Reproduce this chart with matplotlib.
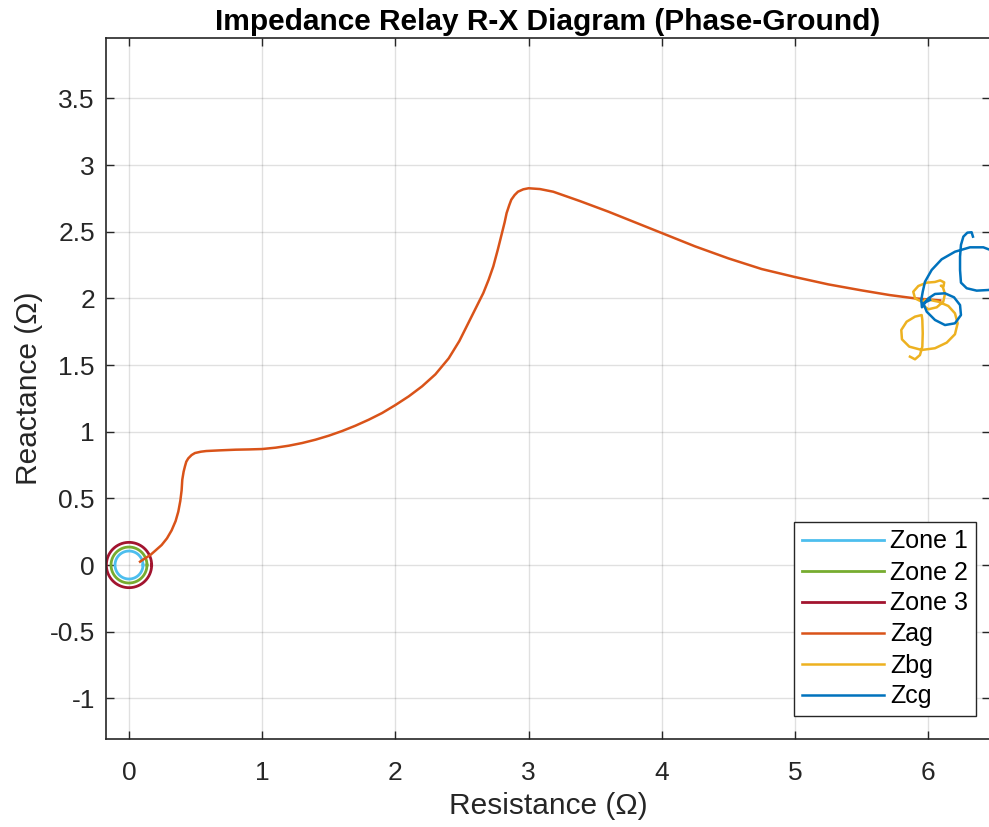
import numpy as np
import matplotlib.pyplot as plt

plt.rcParams["font.family"] = ["Liberation Sans", "DejaVu Sans"]
plt.rcParams["axes.unicode_minus"] = False

# relay zone reaches (circle radius, ohm)
zone_names = ["Zone 1", "Zone 2", "Zone 3"]
zone_radius = [0.105, 0.135, 0.17]

# phase A to ground impedance trajectory
zag_r = [0.083, 0.12, 0.16, 0.2, 0.245, 0.285, 0.32, 0.35, 0.37, 0.385, 0.395,
         0.40, 0.41, 0.42, 0.43, 0.445, 0.47, 0.495, 0.54, 0.58, 0.68, 0.8,
         0.9, 1.0, 1.1, 1.2, 1.3, 1.4, 1.5, 1.6, 1.7, 1.8, 1.9, 2.0, 2.1, 2.2,
         2.3, 2.4, 2.48, 2.56, 2.61, 2.66, 2.70, 2.735, 2.77, 2.80, 2.82,
         2.835, 2.855, 2.87, 2.895, 2.92, 2.96, 3.0, 3.085, 3.185, 3.385, 3.6,
         3.8, 4.0, 4.25, 4.5, 4.75, 5.0, 5.25, 5.5, 5.71, 5.9, 6.09]
zag_x = [0.025, 0.05, 0.075, 0.11, 0.15, 0.2, 0.26, 0.33, 0.40, 0.48, 0.56,
         0.64, 0.70, 0.74, 0.775, 0.80, 0.825, 0.84, 0.85, 0.855, 0.86, 0.865,
         0.867, 0.87, 0.88, 0.895, 0.915, 0.94, 0.97, 1.005, 1.045, 1.09,
         1.14, 1.2, 1.265, 1.34, 1.43, 1.55, 1.68, 1.84, 1.94, 2.04, 2.14,
         2.24, 2.37, 2.49, 2.57, 2.64, 2.70, 2.74, 2.775, 2.80, 2.818, 2.826,
         2.82, 2.80, 2.73, 2.65, 2.57, 2.49, 2.39, 2.30, 2.22, 2.16, 2.105,
         2.06, 2.025, 2.0, 1.985]

# phase B to ground
zbg_r = [5.863, 5.901, 5.938, 5.956, 5.959, 5.956, 5.951, 5.901, 5.838, 5.798,
         5.803, 5.858, 5.951, 6.051, 6.139, 6.201, 6.221, 6.201, 6.151, 6.076,
         6.014, 5.951, 5.901, 5.888, 5.926, 5.989, 6.051, 6.09, 6.12, 6.115,
         6.095, 6.109, 6.126, 6.113, 6.064, 6.001, 5.959, 5.976]
zbg_x = [1.563, 1.543, 1.575, 1.638, 1.738, 1.838, 1.875, 1.863, 1.825, 1.763,
         1.693, 1.638, 1.613, 1.626, 1.668, 1.731, 1.813, 1.888, 1.943, 1.975,
         1.988, 1.975, 2.0, 2.05, 2.093, 2.118, 2.123, 2.135, 2.12, 2.09,
         2.095, 2.088, 2.033, 1.975, 1.933, 1.918, 1.95, 1.988]

# phase C to ground
zcg_r = [6.014, 5.963, 5.989, 6.051, 6.126, 6.201, 6.246, 6.239, 6.194, 6.126,
         6.051, 6.001, 5.963, 5.953, 5.948, 5.959, 5.976, 6.026, 6.101, 6.201,
         6.314, 6.414, 6.501, 6.527, 6.501, 6.456, 6.364, 6.289, 6.246, 6.239,
         6.239, 6.246, 6.264, 6.294, 6.326, 6.336]
zcg_x = [1.988, 1.963, 1.9, 1.838, 1.8, 1.813, 1.875, 1.95, 2.008, 2.038,
         2.033, 2.0, 1.95, 1.933, 1.988, 2.05, 2.125, 2.213, 2.293, 2.35,
         2.383, 2.383, 2.35, 2.213, 2.088, 2.063, 2.058, 2.076, 2.118, 2.213,
         2.313, 2.401, 2.463, 2.493, 2.496, 2.463]

zone_colors = ["#4DBEEE", "#77AC30", "#A2142F"]
zag_color = "#D95319"
zbg_color = "#EDB120"
zcg_color = "#0072BD"

fig = plt.figure(figsize=(9.89, 8.27), dpi=100)
ax = fig.add_axes([106 / 989, 88 / 827, 884 / 989, 701 / 827])

theta = np.linspace(0, 2 * np.pi, 200)
for name, r, c in zip(zone_names, zone_radius, zone_colors):
    ax.plot(r * np.cos(theta), r * np.sin(theta), color=c, lw=2.0, label=name)

ax.plot(zag_r, zag_x, color=zag_color, lw=1.8, label="Zag")
ax.plot(zbg_r, zbg_x, color=zbg_color, lw=1.8, label="Zbg")
ax.plot(zcg_r, zcg_x, color=zcg_color, lw=1.8, label="Zcg")

ax.set_xlim(-0.1727, 6.464)
ax.set_ylim(-1.305, 3.953)
ax.set_xticks(np.arange(0, 7, 1))
ax.set_yticks(np.arange(-1, 3.51, 0.5))
ax.set_yticklabels(["-1", "-0.5", "0", "0.5", "1", "1.5", "2", "2.5", "3", "3.5"])

ax.grid(True, color="#000000", alpha=0.12, lw=1.0)
ax.set_axisbelow(True)
ax.tick_params(direction="in", top=True, right=True, length=6, width=1,
               colors="#262626", labelsize=19)
ax.tick_params(axis="x", pad=16)
ax.tick_params(axis="y", pad=8)
for sp in ax.spines.values():
    sp.set_color("#262626")
    sp.set_linewidth(1.2)

ax.set_xlabel("Resistance (\u03a9)", fontsize=21.5, color="#262626", labelpad=5)
ax.set_ylabel("Reactance (\u03a9)", fontsize=21.5, color="#262626", labelpad=5)
ax.set_title("Impedance Relay R-X Diagram (Phase-Ground)", fontsize=21.5,
             fontweight="bold", pad=6)

leg = ax.legend(loc="upper left", bbox_to_anchor=(794 / 989, 1 - 522 / 827),
                bbox_transform=fig.transFigure, borderaxespad=0,
                fancybox=False, framealpha=1, edgecolor="#262626",
                fontsize=18, handlelength=3.3, handletextpad=0.25,
                labelspacing=0.28, borderpad=0.3)
leg.get_frame().set_linewidth(1.0)

fig.savefig("out.png", dpi=100)
